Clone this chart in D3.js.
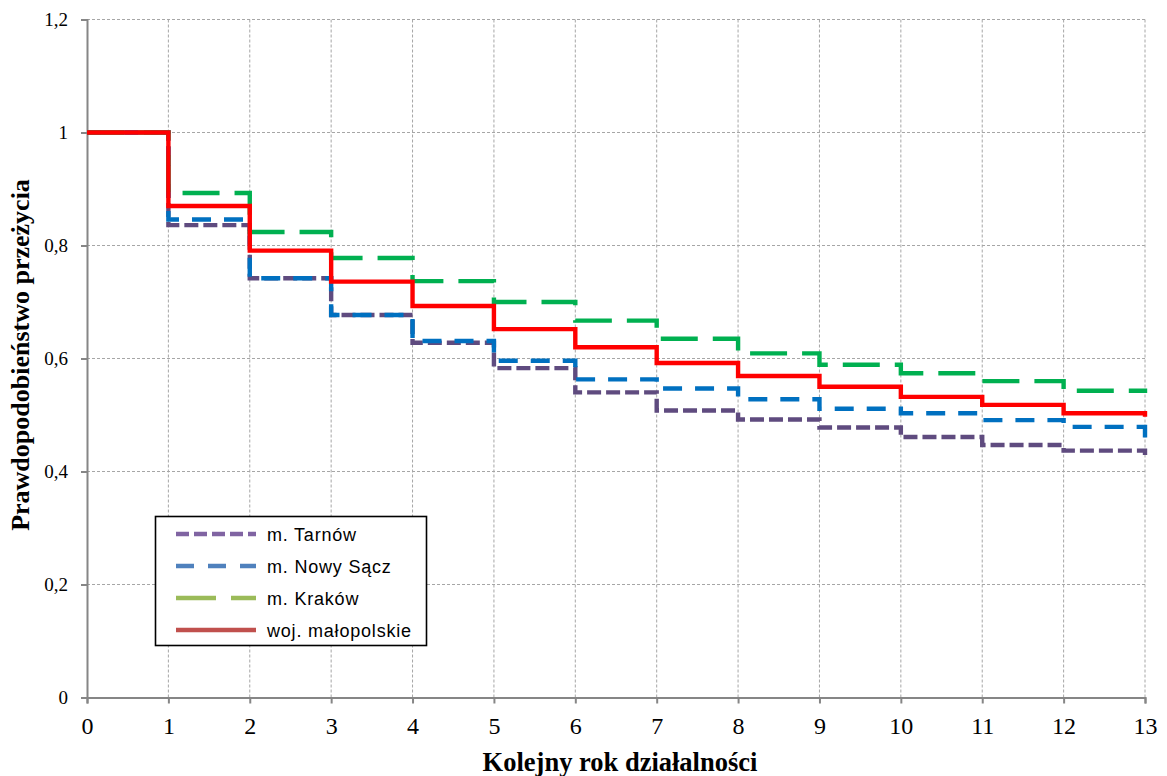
<!DOCTYPE html>
<html><head><meta charset="utf-8">
<script src="https://cdn.jsdelivr.net/npm/d3@7"></script>
<style>body{margin:0;background:#fff}svg{display:block}</style>
</head><body>
<svg id="c" width="1167" height="776"></svg>
<script>
const years = [0,1,2,3,4,5,6,7,8,9,10,11,12,13];
const yTicks = [0,0.2,0.4,0.6,0.8,1,1.2];
const yTickLabels = ["0","0,2","0,4","0,6","0,8","1","1,2"];
const seriesNames = ["m. Tarnów","m. Nowy Sącz","m. Kraków","woj. małopolskie"];
const tarnow   = [1,0.836,0.742,0.677,0.628,0.583,0.540,0.508,0.492,0.478,0.461,0.447,0.437,0.429];
const nowySacz = [1,0.846,0.742,0.677,0.631,0.596,0.563,0.547,0.528,0.511,0.503,0.491,0.479,0.447];
const krakow   = [1,0.893,0.824,0.778,0.737,0.700,0.667,0.635,0.609,0.589,0.574,0.560,0.543,0.539];
const malopol  = [1,0.870,0.791,0.736,0.693,0.652,0.620,0.592,0.569,0.550,0.532,0.518,0.503,0.497];

const lineColors = ["#5F4B7F","#0070C0","#00B050","#FF0000"];
const legendColors = ["#8064A2","#4F81BD","#9BBB59","#C0504D"];
const dashes = ["14,5","19,13","37,15",null];

const svg = d3.select("#c");
const L=87, R=1145, T=19.5, B=697.5;
const x = d3.scaleLinear().domain([0,13]).range([L,R]);
const y = d3.scaleLinear().domain([0,1.2]).range([B,T]);
const serif = "'Liberation Serif','Times New Roman',serif";

// grid
const g = svg.append("g");
g.selectAll(".gx").data(years.slice(1)).enter().append("line")
  .attr("x1",d=>x(d)).attr("x2",d=>x(d)).attr("y1",T).attr("y2",B)
  .attr("stroke","#a6a6a6").attr("stroke-width",1).attr("stroke-dasharray","3,2");
g.selectAll(".gy").data(yTicks.slice(1)).enter().append("line")
  .attr("x1",L).attr("x2",R).attr("y1",d=>y(d)).attr("y2",d=>y(d))
  .attr("stroke","#a6a6a6").attr("stroke-width",1).attr("stroke-dasharray","3,2");

// axes
const xAxis = d3.axisBottom(x).tickValues(years).tickSize(6).tickFormat(d3.format("d"));
const yAxis = d3.axisLeft(y).tickValues(yTicks).tickSize(6).tickFormat((d,i)=>yTickLabels[i]);
const ax = svg.append("g").attr("transform",`translate(0,${B})`).call(xAxis);
const ay = svg.append("g").attr("transform",`translate(${L},0)`).call(yAxis);
[ax,ay].forEach(a=>{
  a.attr("font-family",serif);
  a.select(".domain").attr("stroke","#868686").attr("stroke-width",2);
  a.selectAll(".tick line").attr("stroke","#868686").attr("stroke-width",2);
  a.selectAll(".tick text").attr("fill","#000").attr("font-family",serif).style("font-family",serif);
});
ax.selectAll(".tick text").style("font-size","24px").attr("dy",null).attr("y",36);
ay.selectAll(".tick text").style("font-size","19px").attr("x",-19).attr("dy","0.33em");

// lines
const all = [tarnow,nowySacz,krakow,malopol];
const line = d3.line().x((d,i)=>x(years[i])).y(d=>y(d)).curve(d3.curveStepAfter);
all.forEach((s,k)=>{
  const p = svg.append("path").datum(s).attr("d",line).attr("fill","none")
    .attr("stroke",lineColors[k]).attr("stroke-width",4.4);
  if(dashes[k]) p.attr("stroke-dasharray",dashes[k]);
});

// legend
const lg = svg.append("g");
lg.append("rect").attr("x",155.5).attr("y",516.5).attr("width",271).attr("height",129)
  .attr("fill","#fff").attr("stroke","#000").attr("stroke-width",1.6);
seriesNames.forEach((n,k)=>{
  const yy = 534 + k*32;
  const l = lg.append("line").attr("x1",176).attr("x2",256).attr("y1",yy).attr("y2",yy)
    .attr("stroke",legendColors[k]).attr("stroke-width",4.5);
  if(k===0) l.attr("stroke-dasharray","13,5");
  if(k===1) l.attr("stroke-dasharray","18,14");
  if(k===2) l.attr("stroke-dasharray","40,15");
  lg.append("text").attr("x",267).attr("y",yy+6.5).text(n)
    .style("font-family","'Liberation Sans',Arial,sans-serif").style("font-size","18px")
    .style("letter-spacing","0.8px").attr("fill","#000");
});

// titles
svg.append("text").attr("x",620).attr("y",771).attr("text-anchor","middle")
  .style("font-family",serif).style("font-size","26.5px").style("font-weight","bold")
  .text("Kolejny rok działalności");
svg.append("text").attr("transform","translate(29,355) rotate(-90)").attr("text-anchor","middle")
  .style("font-family",serif).style("font-size","26px").style("font-weight","bold")
  .text("Prawdopodobieństwo przeżycia");
</script>
</body></html>
